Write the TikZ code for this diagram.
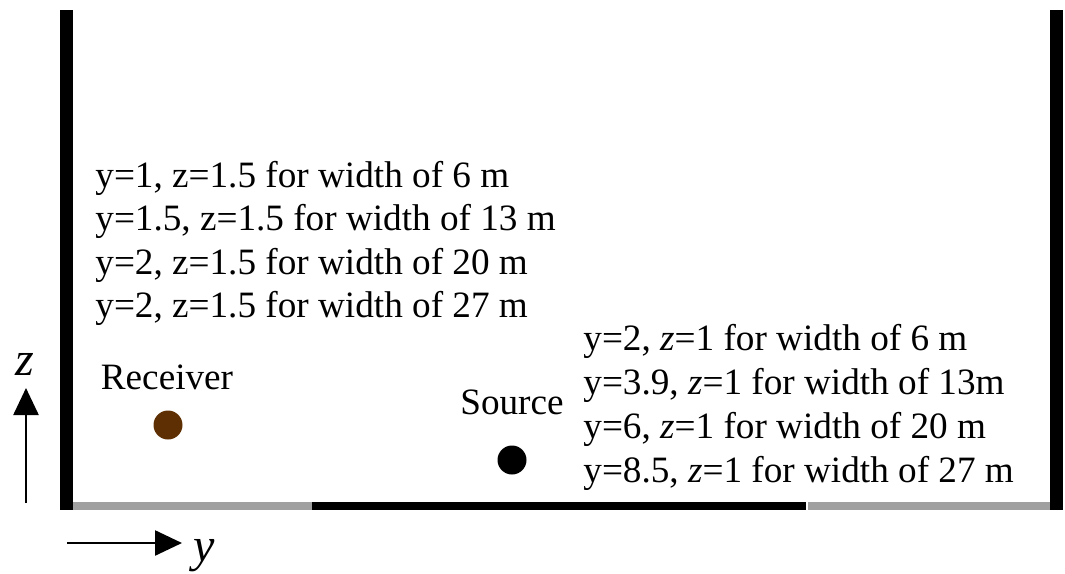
\documentclass[tikz,border=0pt]{standalone}
\usepackage{fontspec}
\setmainfont{Liberation Serif}
\usetikzlibrary{matrix,arrows.meta}
\definecolor{recbrown}{RGB}{94,47,3}
\definecolor{floorgray}{RGB}{160,160,160}

\begin{document}
\begin{tikzpicture}[x=0.5pt,y=-0.5pt,
  lbl/.style={inner sep=0pt,anchor=base west,font=\fontsize{18.6}{21.75}\selectfont},
  axlbl/.style={lbl,font=\fontsize{24}{28}\selectfont\itshape},
  posrow/.style={matrix of nodes,inner sep=0pt,anchor=north west,
    nodes={lbl,text height=14.5pt,text depth=7.25pt}},
  axis/.style={line width=1.25pt,-{Triangle[length=13.5pt,width=12.5pt]}},
  dot/.style={circle,inner sep=0pt,minimum size=14.5pt}]
  \useasboundingbox (0,0) rectangle (1065,573);
  % walls and floor
  \fill (60,10) rectangle (73,510);
  \fill (1050,10) rectangle (1063,510);
  \fill[floorgray] (73,502) rectangle (312,510);
  \fill (312,502) rectangle (806,510);
  \fill[floorgray] (808,502) rectangle (1050,510);

  \matrix (recpos) [posrow, row sep=0pt] at (95,158)
  {
    y=1, z=1.5 for width of 6 m \\
    y=1.5, z=1.5 for width of 13 m \\
    y=2, z=1.5 for width of 20 m \\
    y=2, z=1.5 for width of 27 m \\
  };
  \matrix (srcpos) [posrow, row sep=0.25pt] at (583,321)
  {
    y=2, \textit{z}=1 for width of 6 m \\
    y=3.9, \textit{z}=1 for width of 13m \\
    y=6, \textit{z}=1 for width of 20 m \\
    y=8.5, \textit{z}=1 for width of 27 m \\
  };

  \node (rec) [dot, fill=recbrown] at (168,425) {};
  \node (reclbl) [lbl, anchor=base] at (167,389) {Receiver};
  \node (src) [dot, fill=black] at (512,460) {};
  \node (srclbl) [lbl, anchor=base] at (512,414) {Source};

  % axes
  \coordinate (zfoot) at (26,503);
  \coordinate (ztip) at (26,388);
  \coordinate (yfoot) at (67,543);
  \coordinate (ytip) at (182,543);
  \draw[axis] (zfoot) -- (ztip);
  \draw[axis] (yfoot) -- (ytip);
  \node (zlbl) [axlbl, anchor=base] at (25,375) {z};
  \node (ylbl) [axlbl] at (193,561) {y};
\end{tikzpicture}
\end{document}
